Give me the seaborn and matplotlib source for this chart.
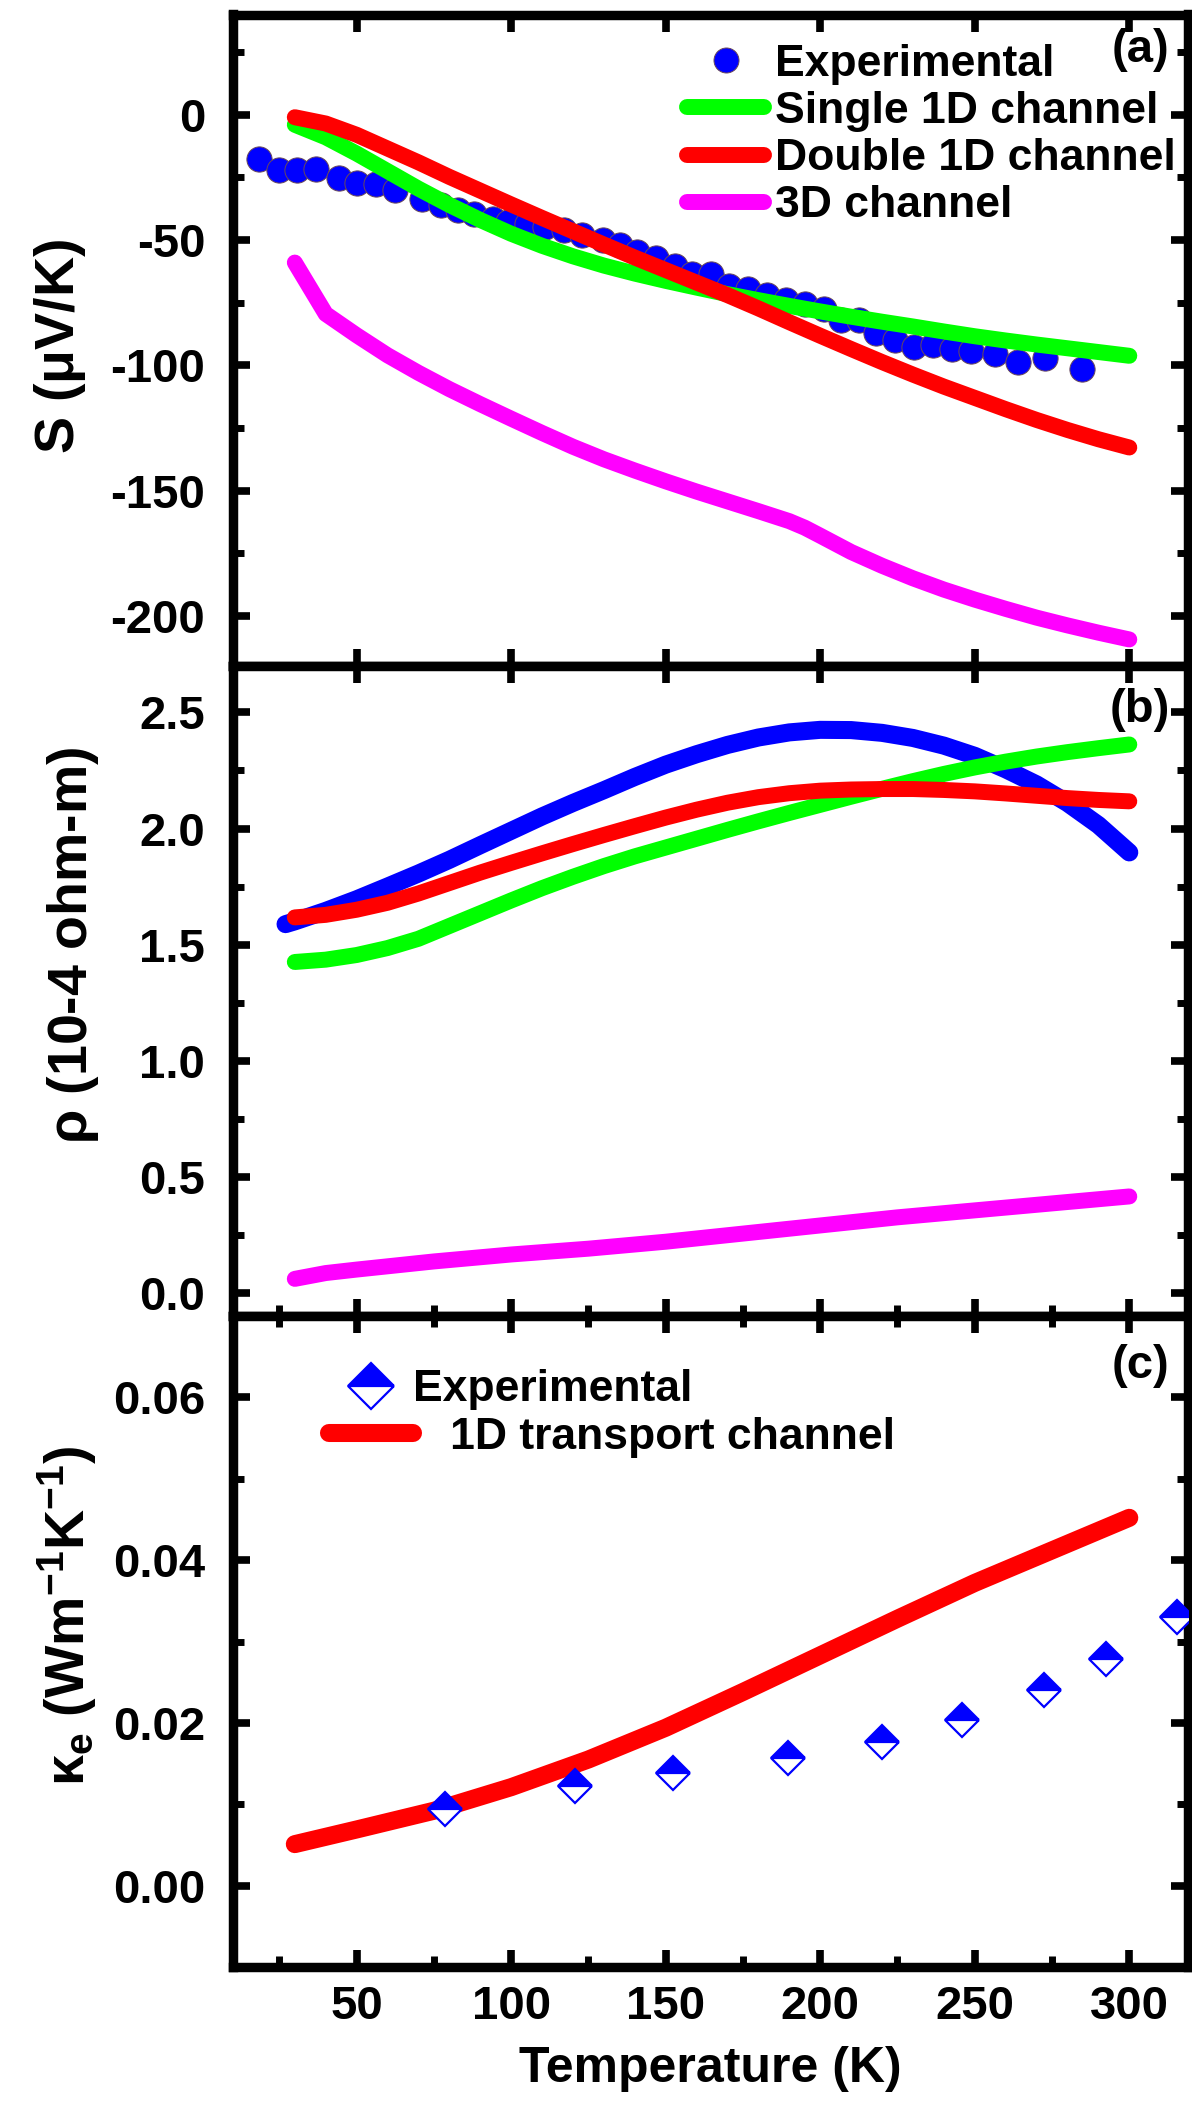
import matplotlib
matplotlib.use("Agg")
import matplotlib.pyplot as plt
from matplotlib.ticker import MultipleLocator, FormatStrFormatter
from matplotlib.lines import Line2D
import seaborn as sns

# ---------------- data ----------------
# (a) Seebeck coefficient S (uV/K)
s_exp_T = [18.5, 24.8, 30.7, 36.9, 44.3, 50.2, 56.4, 62.5, 71.2, 77.4, 82.9, 88, 94, 99,
           105, 111, 117, 123, 129.7, 135.2, 140.7, 146.8, 152.9, 158.4, 164.5, 170.6,
           176.7, 182.8, 188.9, 195.0, 201.2, 206.7, 212.7, 218.2, 224.3, 230.5, 236.6,
           242.7, 248.8, 256.7, 264.0, 272.6, 284.8]
s_exp = [-17.8, -21.9, -22.2, -21.5, -25.2, -27.2, -27.6, -30.2, -33.8, -36.1, -38.2, -39.8,
         -41.5, -42.8, -43.8, -45.0, -46.2, -48.0, -49.8, -52.1, -54.8, -57.0, -60.5, -63.6,
         -63.6, -68.5, -69.4, -72.1, -73.9, -75.7, -77.5, -81.9, -81.9, -87.3, -89.9, -92.6,
         -91.7, -93.5, -94.4, -95.3, -98.8, -97.0, -101.5]

model_T = [30, 40, 50, 60, 70, 80, 90, 100, 110, 120, 130, 140, 150, 160, 170, 180, 190,
           200, 210, 220, 230, 240, 250, 260, 270, 280, 290, 300]
s_single = [-4, -9, -15.5, -22.5, -29.5, -36, -42, -47.5, -52.3, -56.5, -60.2, -63.4, -66.3,
            -69, -71.6, -74, -76.3, -78.5, -80.6, -82.6, -84.5, -86.5, -88.4, -90.1, -91.7,
            -93.2, -94.7, -96.2]
s_double = [-1, -3.5, -8, -13.5, -19, -24.8, -30.3, -35.8, -41.2, -46.5, -51.8, -57, -62,
            -67, -72, -77.3, -82.8, -88.2, -93.5, -98.7, -103.7, -108.5, -113, -117.5,
            -121.8, -125.8, -129.5, -132.8]
s3d_T = [30, 40, 50, 60, 70, 80, 90, 100, 110, 120, 130, 140, 150, 160, 170, 180, 190, 195,
         200, 210, 220, 230, 240, 250, 260, 270, 280, 290, 300]
s_3d = [-59, -79.5, -88, -96, -103, -109.5, -115.5, -121.3, -127, -132.5, -137.5, -142,
        -146.3, -150.4, -154.3, -158.2, -162.2, -164.8, -168, -174.5, -180, -185, -189.5,
        -193.5, -197.2, -200.7, -203.8, -206.7, -209.4]

# (b) resistivity (1e-4 ohm m)
rho_exp_T = [27] + model_T
rho_exp = [1.588, 1.60, 1.645, 1.695, 1.75, 1.806, 1.865, 1.928, 1.99, 2.052, 2.11, 2.165,
           2.222, 2.275, 2.32, 2.36, 2.392, 2.414, 2.425, 2.424, 2.412, 2.39, 2.357, 2.313,
           2.255, 2.19, 2.11, 2.015, 1.897]
rho_single = [1.425, 1.435, 1.455, 1.485, 1.525, 1.58, 1.635, 1.69, 1.743, 1.792, 1.838,
              1.88, 1.918, 1.956, 1.994, 2.031, 2.067, 2.102, 2.137, 2.171, 2.204, 2.235,
              2.263, 2.288, 2.31, 2.329, 2.346, 2.362]
rho_double = [1.617, 1.628, 1.65, 1.68, 1.72, 1.765, 1.81, 1.852, 1.893, 1.933, 1.972,
              2.01, 2.047, 2.081, 2.111, 2.135, 2.152, 2.163, 2.168, 2.17, 2.17, 2.166,
              2.16, 2.151, 2.141, 2.131, 2.123, 2.117]
rho3d_T = [30, 40, 50, 75, 100, 125, 150, 175, 200, 225, 250, 275, 300]
rho_3d = [0.06, 0.085, 0.10, 0.135, 0.165, 0.19, 0.22, 0.255, 0.29, 0.325, 0.355, 0.385, 0.415]

# (c) electronic thermal conductivity (W m^-1 K^-1)
ke_exp_T = [78.6, 120.7, 152.5, 189.6, 220, 246, 272.3, 292.5, 315.3]
ke_exp = [0.0094, 0.0122, 0.0138, 0.0157, 0.0177, 0.0204, 0.0241, 0.0279, 0.0330]
ke_T = [30, 50, 75, 100, 125, 150, 175, 200, 225, 250, 275, 300]
ke_1d = [0.0051, 0.0069, 0.0092, 0.0121, 0.0155, 0.0194, 0.0238, 0.0283, 0.0328, 0.0372,
         0.0412, 0.0452]

# ---------------- style ----------------
sns.set_theme(style="ticks")
plt.rcParams["font.family"] = ["Liberation Sans", "DejaVu Sans"]
plt.rcParams["font.weight"] = "bold"
plt.rcParams["axes.labelweight"] = "bold"
plt.rcParams["axes.unicode_minus"] = False
for key in ("text.color", "axes.labelcolor", "axes.edgecolor", "xtick.color", "ytick.color"):
    plt.rcParams[key] = "black"
plt.rcParams["mathtext.fontset"] = "custom"
plt.rcParams["mathtext.rm"] = "Liberation Sans"
plt.rcParams["mathtext.bf"] = "Liberation Sans:bold"
plt.rcParams["mathtext.it"] = "Liberation Sans:italic"

BLUE, GREEN, RED, MAG = "#0000FF", "#00FF00", "#FF0000", "#FF00FF"
LW = 11.5
TICK_FS = 34
LAB_FS = 40

fig = plt.figure(figsize=(11.92, 21.05), dpi=100)
left, width = 233 / 1192, 955 / 1192
axa = fig.add_axes([left, 1 - 666 / 2105, width, 651.5 / 2105])
axb = fig.add_axes([left, 1 - 1316 / 2105, width, 650 / 2105], sharex=axa)
axc = fig.add_axes([left, 1 - 1967 / 2105, width, 651 / 2105], sharex=axa)

line_kw = dict(solid_capstyle="round", solid_joinstyle="round", estimator=None, sort=False)

# (a)
sns.scatterplot(x=s_exp_T, y=s_exp, ax=axa, s=330, color=BLUE, edgecolor="#6a4a5a",
                linewidth=0.7, zorder=2, legend=False)
sns.lineplot(x=model_T, y=s_single, ax=axa, color=GREEN, lw=LW, zorder=3, **line_kw)
sns.lineplot(x=model_T, y=s_double, ax=axa, color=RED, lw=LW, zorder=4, **line_kw)
sns.lineplot(x=s3d_T, y=s_3d, ax=axa, color=MAG, lw=LW, zorder=4, **line_kw)

# (b)
sns.lineplot(x=rho_exp_T, y=rho_exp, ax=axb, color=BLUE, lw=13, zorder=2, **line_kw)
sns.lineplot(x=model_T, y=rho_single, ax=axb, color=GREEN, lw=LW, zorder=3, **line_kw)
sns.lineplot(x=model_T, y=rho_double, ax=axb, color=RED, lw=LW, zorder=4, **line_kw)
sns.lineplot(x=rho3d_T, y=rho_3d, ax=axb, color=MAG, lw=LW, zorder=4, **line_kw)

# (c)
sns.lineplot(x=ke_T, y=ke_1d, ax=axc, color=RED, lw=13, zorder=3, **line_kw)
sns.lineplot(x=ke_exp_T, y=ke_exp, ax=axc, color=BLUE, linestyle="", marker="D",
             markersize=17, fillstyle="top", markerfacecolor=BLUE,
             markerfacecoloralt="white", markeredgecolor=BLUE, markeredgewidth=1.6,
             zorder=4, estimator=None, sort=False)

# ---------------- axes ----------------
axa.set_xlim(10, 319)
axa.set_ylim(-220, 40)
axb.set_ylim(-0.1, 2.7)
axc.set_ylim(-0.01, 0.07)

axa.xaxis.set_major_locator(MultipleLocator(50))
axa.xaxis.set_minor_locator(MultipleLocator(25))
axa.yaxis.set_major_locator(MultipleLocator(50))
axa.yaxis.set_minor_locator(MultipleLocator(25))
axb.yaxis.set_major_locator(MultipleLocator(0.5))
axb.yaxis.set_minor_locator(MultipleLocator(0.25))
axc.yaxis.set_major_locator(MultipleLocator(0.02))
axc.yaxis.set_minor_locator(MultipleLocator(0.01))
axb.yaxis.set_major_formatter(FormatStrFormatter("%.1f"))
axc.yaxis.set_major_formatter(FormatStrFormatter("%.2f"))

for ax in (axa, axb, axc):
    for sp in ax.spines.values():
        sp.set_linewidth(6.8)
        sp.set_visible(True)
        sp.set_color("black")
    ax.tick_params(which="major", direction="in", length=12, width=5.5, top=True,
                   right=True, labelsize=TICK_FS, color="black", labelcolor="black")
    ax.tick_params(which="minor", direction="in", length=8, width=5, top=True,
                   right=True, color="black")
    ax.tick_params(axis="x", which="major", pad=13)
    ax.tick_params(axis="y", which="major", pad=20)
    for lab in ax.get_xticklabels() + ax.get_yticklabels():
        lab.set_fontweight("bold")
    ax.set_xlabel("")
    ax.set_ylabel("")

axa.tick_params(axis="x", which="minor", top=False, bottom=False)
axb.tick_params(axis="x", which="minor", top=False)
axa.tick_params(axis="x", labelbottom=False)
axb.tick_params(axis="x", labelbottom=False)

axc.set_xlabel("Temperature (K)", fontsize=36, fontweight="bold", labelpad=12)

axa.set_ylabel(r"S ($\mathrm{\mu}$V/K)", fontsize=LAB_FS, fontweight="bold")
axb.set_ylabel(r"$\mathrm{\rho}$ (10-4 ohm-m)", fontsize=LAB_FS, fontweight="bold")
axc.set_ylabel(r"$\mathrm{\kappa}_\mathbf{e}$ (Wm$^\mathbf{-1}$K$^\mathbf{-1}$)",
               fontsize=LAB_FS, fontweight="bold")
axa.yaxis.set_label_coords(-0.152, 0.49)
axb.yaxis.set_label_coords(-0.138, 0.57)
axc.yaxis.set_label_coords(-0.14, 0.54)

for ax, tag, y in ((axa, "(a)", 0.979), (axb, "(b)", 0.966), (axc, "(c)", 0.957)):
    ax.text(0.981, y, tag, transform=ax.transAxes, ha="right", va="top",
            fontsize=34, fontweight="bold")

# ---------------- legends ----------------
handles_a = [
    Line2D([], [], linestyle="", marker="o", markersize=18, markerfacecolor=BLUE,
           markeredgecolor="#6a4a5a", markeredgewidth=0.7),
    Line2D([], [], color=GREEN, lw=LW, solid_capstyle="round"),
    Line2D([], [], color=RED, lw=LW, solid_capstyle="round"),
    Line2D([], [], color=MAG, lw=LW, solid_capstyle="round"),
]
labels_a = ["Experimental", "Single 1D channel", "Double 1D channel", "3D channel"]
axa.legend(handles_a, labels_a, loc="upper left", bbox_to_anchor=(0.475, 0.955),
           frameon=False, borderpad=0, borderaxespad=0, handlelength=1.75,
           handletextpad=0.23, labelspacing=0.14,
           prop={"size": 32, "weight": "bold"})

handles_c = [
    Line2D([], [], linestyle="", marker="D", markersize=23, fillstyle="top",
           markerfacecolor=BLUE, markerfacecoloralt="white", markeredgecolor=BLUE,
           markeredgewidth=1.6),
    Line2D([], [], color=RED, lw=13, solid_capstyle="round"),
]
labels_c = ["Experimental", "   1D transport channel"]
axc.legend(handles_c, labels_c, loc="upper left", bbox_to_anchor=(0.1005, 0.918),
           frameon=False, borderpad=0, borderaxespad=0, handlelength=1.9,
           handletextpad=0.0, labelspacing=0.14,
           prop={"size": 32, "weight": "bold"})

fig.savefig("out.png", dpi=100)
